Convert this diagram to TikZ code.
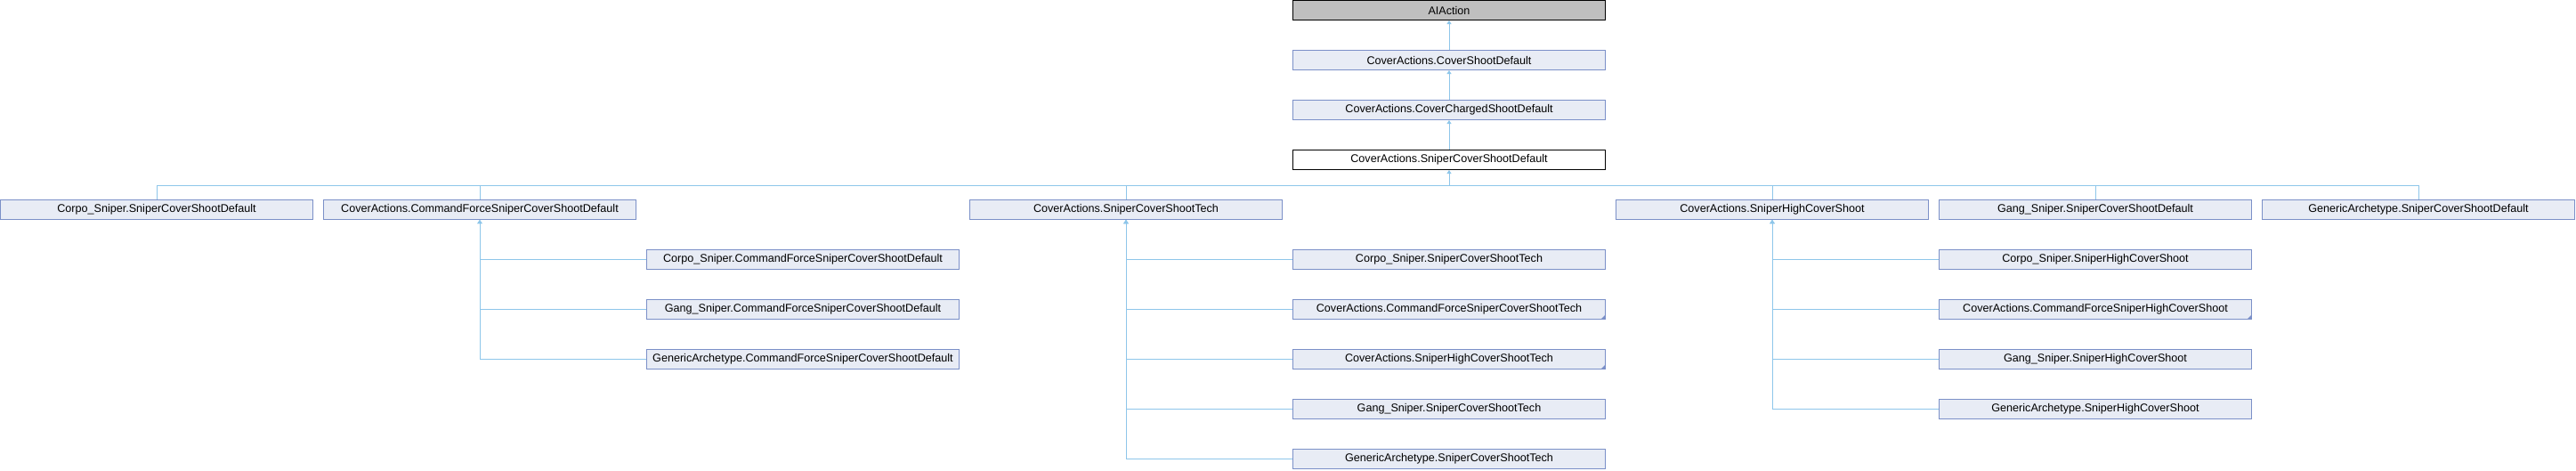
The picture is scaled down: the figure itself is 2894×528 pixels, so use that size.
\documentclass[tikz,border=0pt]{standalone}
\usepackage{fontspec}
\setsansfont{Liberation Sans}
\usepackage{tikz}
\usetikzlibrary{arrows.meta,positioning}
\tikzstyle{every picture}+=[font=\sffamily]
\definecolor{boxfill}{HTML}{E8ECF5}
\definecolor{boxline}{HTML}{7B90C8}
\definecolor{edge}{HTML}{8EC6EA}
\definecolor{rootfill}{HTML}{BFBFBF}

\begin{document}
\begin{tikzpicture}
		[font=\sffamily\fontsize{12.6}{14}\selectfont, x=1pt, y=-1pt, inner sep=0pt,
		member/.style	= {rectangle,draw=boxline,fill=boxfill,line width=1pt,minimum width=351pt,minimum height=22pt},
		root/.style		= {member,draw=black,fill=rootfill},
		current/.style	= {member,draw=black,fill=white},
		paths/.style	= {->, >={Triangle[width=5pt,length=4pt]}, draw=edge, line width=1pt},
		link/.style		= {draw=edge, line width=1pt},
		more/.style		= {fill=boxline}]
		
		\useasboundingbox (0,0) rectangle (2894,528);
		
		\node at (1628, 11.5)	[root]		(ai)		{AIAction};
		\node at (1628, 67.5)	[member]	(cover)		{CoverActions.CoverShootDefault};
		\node at (1628, 123.5)	[member]	(charged)	{CoverActions.CoverChargedShootDefault};
		\node at (1628, 179.5)	[current]	(base)		{CoverActions.SniperCoverShootDefault};
		
		\node at (176, 235.5)	[member]	(corpo)		{Corpo\_Sniper.SniperCoverShootDefault};
		\node at (539, 235.5)	[member]	(cmd)		{CoverActions.CommandForceSniperCoverShootDefault};
		\node at (1265, 235.5)	[member]	(tech)		{CoverActions.SniperCoverShootTech};
		\node at (1991, 235.5)	[member]	(high)		{CoverActions.SniperHighCoverShoot};
		\node at (2354, 235.5)	[member]	(gang)		{Gang\_Sniper.SniperCoverShootDefault};
		\node at (2717, 235.5)	[member]	(generic)	{GenericArchetype.SniperCoverShootDefault};
		
		\node at (902, 291.5)	[member]	(c1)		{Corpo\_Sniper.CommandForceSniperCoverShootDefault};
		\node at (902, 347.5)	[member]	(c2)		{Gang\_Sniper.CommandForceSniperCoverShootDefault};
		\node at (902, 403.5)	[member]	(c3)		{GenericArchetype.CommandForceSniperCoverShootDefault};
		
		\node at (1628, 291.5)	[member]	(t1)		{Corpo\_Sniper.SniperCoverShootTech};
		\node at (1628, 347.5)	[member]	(t2)		{CoverActions.CommandForceSniperCoverShootTech};
		\node at (1628, 403.5)	[member]	(t3)		{CoverActions.SniperHighCoverShootTech};
		\node at (1628, 459.5)	[member]	(t4)		{Gang\_Sniper.SniperCoverShootTech};
		\node at (1628, 515.5)	[member]	(t5)		{GenericArchetype.SniperCoverShootTech};
		
		\node at (2354, 291.5)	[member]	(h1)		{Corpo\_Sniper.SniperHighCoverShoot};
		\node at (2354, 347.5)	[member]	(h2)		{CoverActions.CommandForceSniperHighCoverShoot};
		\node at (2354, 403.5)	[member]	(h3)		{Gang\_Sniper.SniperHighCoverShoot};
		\node at (2354, 459.5)	[member]	(h4)		{GenericArchetype.SniperHighCoverShoot};
		
		% marks for classes with hidden children
		\fill [more] (t2.south east) ++(-1,-1) -- ++(-4,0) -- ++(4,-4) -- cycle;
		\fill [more] (t3.south east) ++(-1,-1) -- ++(-4,0) -- ++(4,-4) -- cycle;
		\fill [more] (h2.south east) ++(-1,-1) -- ++(-4,0) -- ++(4,-4) -- cycle;
		
		\coordinate (bus) at (1628, 208);
		
		\draw [paths] (cover) -- (ai);
		\draw [paths] (charged) -- (cover);
		\draw [paths] (base) -- (charged);
		
		\draw [paths] (bus) -- (base);
		\draw [link] (corpo.north |- bus) -- (generic.north |- bus);
		\draw [link] (corpo.north) -- (corpo.north |- bus);
		\draw [link] (cmd.north) -- (cmd.north |- bus);
		\draw [link] (tech.north) -- (tech.north |- bus);
		\draw [link] (high.north) -- (high.north |- bus);
		\draw [link] (gang.north) -- (gang.north |- bus);
		\draw [link] (generic.north) -- (generic.north |- bus);
		
		\draw [paths] (c1.west) -| (cmd.south);
		\draw [paths] (c2.west) -| (cmd.south);
		\draw [paths] (c3.west) -| (cmd.south);
		
		\draw [paths] (t1.west) -| (tech.south);
		\draw [paths] (t2.west) -| (tech.south);
		\draw [paths] (t3.west) -| (tech.south);
		\draw [paths] (t4.west) -| (tech.south);
		\draw [paths] (t5.west) -| (tech.south);
		
		\draw [paths] (h1.west) -| (high.south);
		\draw [paths] (h2.west) -| (high.south);
		\draw [paths] (h3.west) -| (high.south);
		\draw [paths] (h4.west) -| (high.south);
		
		\end{tikzpicture}
\end{document}
